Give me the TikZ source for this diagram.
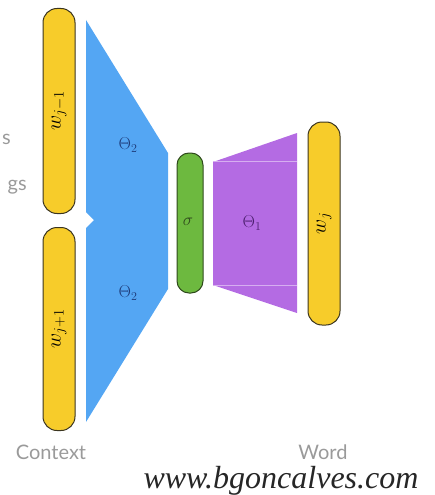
\documentclass[tikz,border=0pt]{standalone}
\usepackage{fontspec}
\usepackage{tikz}
\usetikzlibrary{positioning,calc}
\newfontfamily\labelfont{Lato}
\newfontfamily\markfont{Liberation Serif}
\definecolor{wordyel}{HTML}{F7CC2A}
\definecolor{wordedge}{HTML}{3B3520}
\definecolor{thetablue}{HTML}{54A6F3}
\definecolor{thetadark}{HTML}{1E3C7A}
\definecolor{sigmagreen}{HTML}{6DB93F}
\definecolor{sigmaedge}{HTML}{2F4A1C}
\definecolor{thetapurple}{HTML}{B46BE3}
\definecolor{purpledark}{HTML}{4B1E6E}
\definecolor{captiongray}{HTML}{9A9A9A}
\newcommand{\wordsize}{\fontsize{21}{24}\selectfont}
\newcommand{\thetasize}{\fontsize{17}{19}\selectfont}
\newcommand{\capsize}{\fontsize{20}{22}\selectfont}
\tikzset{
  wordbar/.style={draw=wordedge,line width=1pt,fill=wordyel,rounded corners=14pt,
    minimum width=32pt,inner sep=0pt},
  wordtext/.style={rotate=90,font=\wordsize},
  sigmabar/.style={draw=sigmaedge,line width=1pt,fill=sigmagreen,rounded corners=12pt,
    minimum width=26pt,minimum height=140pt,inner sep=0pt},
  thetatext/.style={font=\thetasize},
  caption/.style={font=\labelfont\capsize,text=captiongray}
}

\begin{document}
\begin{tikzpicture}[x=1pt,y=-1pt]
\useasboundingbox (0,0) rectangle (435,495);
% weight blocks
\fill[thetablue] (86,20) -- (168,153) -- (168,289) -- (86,422) -- (86,228)
  -- (94,220) -- (86,212) -- cycle;
\fill[thetapurple] (213,162) -- (297,133) -- (297,313) -- (213,285) -- cycle;
\draw[thetapurple!55!white,line width=0.6pt] (213,161) -- (297,161);
\draw[thetapurple!55!white,line width=0.6pt] (213,285) -- (297,285);
% words
\node[wordbar,minimum height=205pt] (prev) at (59,111) {};
\node[wordtext] at (prev) {$w_{j-1}$};
\node[wordbar,minimum height=203pt] (next) at (59,329) {};
\node[wordtext] at (next) {$w_{j+1}$};
\node[wordbar,minimum height=203pt] (word) at (324,223.5) {};
\node[wordtext] at (word) {$w_j$};
\node[sigmabar] (sig) at (190,223) {};
\node[thetatext,text=sigmaedge] at (188,222) {$\sigma$};
\node[thetatext,text=thetadark] (thA) at (128,145) {$\Theta_2$};
\node[thetatext,text=thetadark] (thB) at (128,293) {$\Theta_2$};
\node[thetatext,text=purpledark] (thC) at (252,223) {$\Theta_1$};
% captions
\node[caption,anchor=east,inner sep=0pt] (cutA) at (11,139) {s};
\node[caption,anchor=east,inner sep=0pt] (cutB) at (27,187) {gs};
\node[caption] (ctx) at (51,452) {Context};
\node[caption] (wrd) at (323,452) {Word};
\node[font=\markfont\itshape\fontsize{32}{34}\selectfont,text=black!85,inner sep=0pt]
  (site) at (281,481) {www.bgoncalves.com};
\end{tikzpicture}
\end{document}
